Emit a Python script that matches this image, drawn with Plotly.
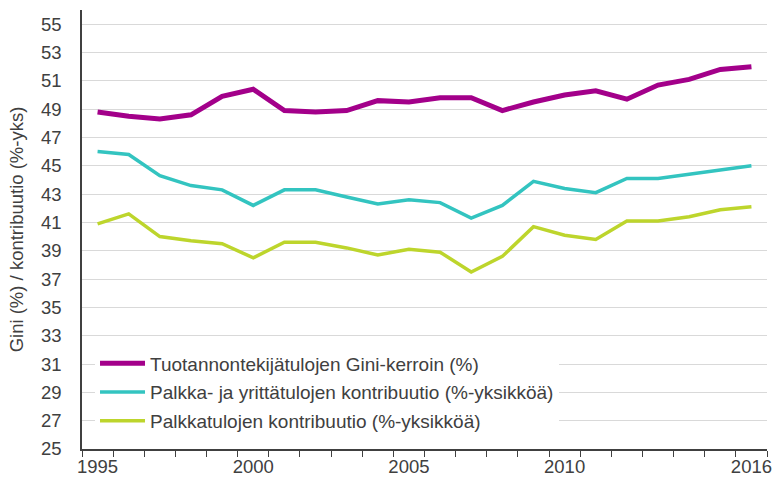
import plotly.graph_objects as go

years = list(range(1995, 2017))
gini = [48.8, 48.5, 48.3, 48.6, 49.9, 50.4, 48.9, 48.8, 48.9, 49.6, 49.5,
        49.8, 49.8, 48.9, 49.5, 50.0, 50.3, 49.7, 50.7, 51.1, 51.8, 52.0]
palkka_yritt = [46.0, 45.8, 44.3, 43.6, 43.3, 42.2, 43.3, 43.3, 42.8, 42.3, 42.6,
                42.4, 41.3, 42.2, 43.9, 43.4, 43.1, 44.1, 44.1, 44.4, 44.7, 45.0]
palkka = [40.9, 41.6, 40.0, 39.7, 39.5, 38.5, 39.6, 39.6, 39.2, 38.7, 39.1,
          38.9, 37.5, 38.6, 40.7, 40.1, 39.8, 41.1, 41.1, 41.4, 41.9, 42.1]

names = ["Tuotannontekijätulojen Gini-kerroin (%)",
         "Palkka- ja yrittätulojen kontribuutio (%-yksikköä)",
         "Palkkatulojen kontribuutio (%-yksikköä)"]
colors = ["#a3008a", "#33c4c0", "#bdd52c"]
widths = [5, 3.5, 3.5]
series = [gini, palkka_yritt, palkka]

x_labels = [1995, 2000, 2005, 2010, 2016]
y_title = "Gini (%) / kontribuutio (%-yks)"

fig = go.Figure()
for i, (n, c, w, s) in enumerate(zip(names, colors, widths, series)):
    fig.add_trace(go.Scatter(x=years, y=s, name=n, mode="lines",
                             line=dict(color=c, width=w), legendgroup=str(i)))

font_col = "#404040"
fs = 18.5
fig.update_layout(
    width=774, height=479,
    margin=dict(l=82, r=7, t=10, b=30),
    paper_bgcolor="white", plot_bgcolor="white",
    font=dict(family="Liberation Sans, Arial, sans-serif", size=fs, color=font_col),
    showlegend=True,
    legend=dict(x=0.019, y=0.238, xanchor="left", yanchor="top",
                bgcolor="white", borderwidth=0, tracegroupgap=1, itemwidth=45,
                font=dict(size=19, color=font_col)),
    xaxis=dict(range=[1994.5, 2016.5], tickmode="array", tickvals=x_labels,
               ticktext=[str(v) for v in x_labels], ticks="", showgrid=False,
               showline=True, linecolor=font_col, linewidth=1.5,
               automargin=False,
               minor=dict(tickmode="array",
                          tickvals=[y - 0.5 for y in years] + [2016.5],
                          ticks="outside", ticklen=6, tickcolor=font_col,
                          tickwidth=1, showgrid=False),
               zeroline=False, fixedrange=True),
    yaxis=dict(range=[25, 56], tickmode="linear", tick0=25, dtick=2,
               showgrid=True, gridcolor="#d9d9d9", gridwidth=1,
               showline=True, linecolor=font_col, linewidth=1.5,
               ticks="", ticklabelstandoff=15, zeroline=False, automargin=False,
               title=dict(text=y_title, font=dict(size=fs, color=font_col), standoff=12)),
)

fig.write_html("out.html", config={"displayModeBar": False},
               post_script="document.body.style.margin='0px';")
